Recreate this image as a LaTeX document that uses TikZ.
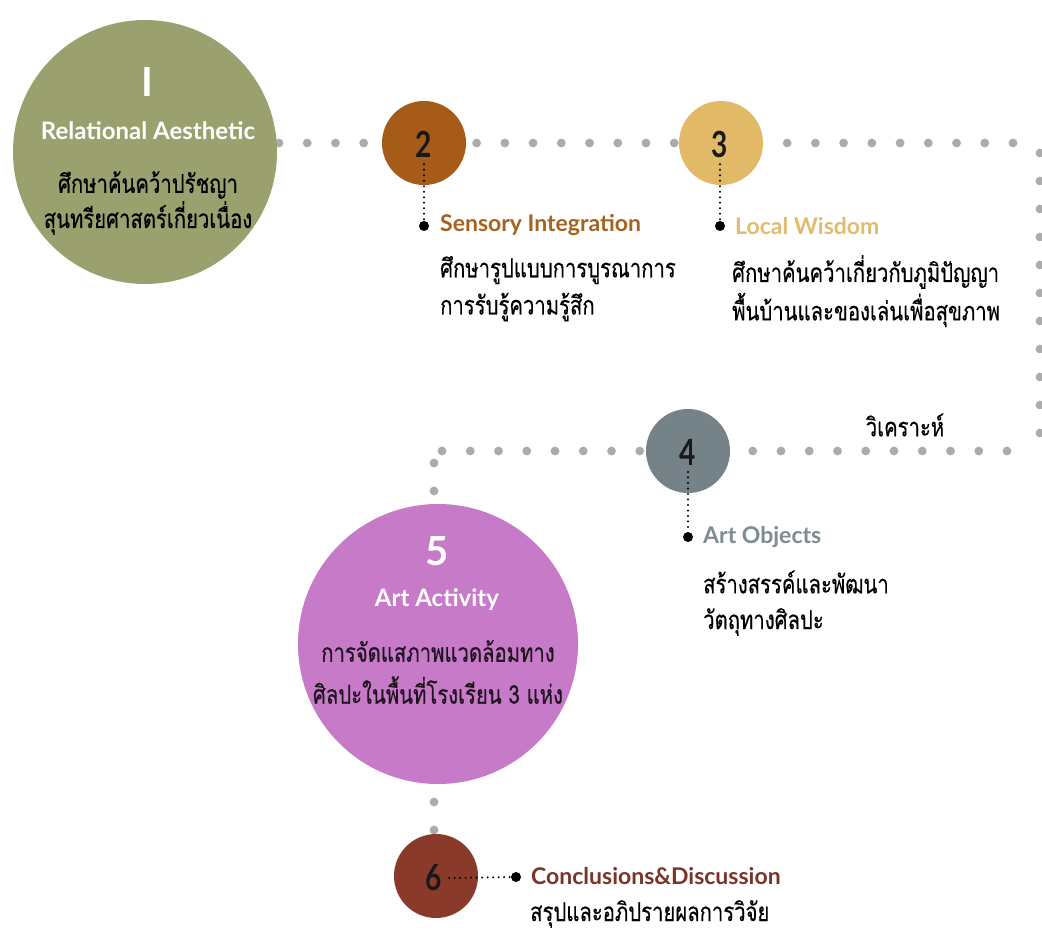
\documentclass[tikz,border=0pt]{standalone}
\usepackage{fontspec}
\setmainfont{Lato}
\newfontfamily\thaiface[Script=Thai, FakeStretch=0.78, FakeBold=0.35]{Loma}
\usetikzlibrary{calc}

\definecolor{dotgray}{HTML}{ABABAB}
\definecolor{stepA}{HTML}{9BA16E}
\definecolor{stepB}{HTML}{A65B18}
\definecolor{stepC}{HTML}{E2BA67}
\definecolor{stepD}{HTML}{758288}
\definecolor{stepE}{HTML}{C77AC8}
\definecolor{stepF}{HTML}{8A3A2B}
\definecolor{labB}{HTML}{A5631F}
\definecolor{labC}{HTML}{E0BC70}
\definecolor{labD}{HTML}{7E8B90}
\definecolor{labF}{HTML}{7A3528}

\tikzset{
  bigdisc/.style={circle, inner sep=0pt, minimum size=264pt},
  smalldisc/.style={circle, inner sep=0pt, minimum size=84pt},
  digit/.style={inner sep=0pt, outer sep=7pt, font=\fontsize{36}{36}\selectfont\bfseries, text=black!90},
  bignum/.style={inner sep=0pt, font=\fontsize{40}{40}\selectfont\bfseries, text=white},
  bigtitle/.style={inner sep=0pt, font=\fontsize{24}{28}\selectfont\bfseries, text=white},
  steplabel/.style={anchor=west, inner sep=0pt, font=\fontsize{23}{26}\selectfont\bfseries},
  thaitext/.style={inner sep=0pt, font=\thaiface\fontsize{26}{30}\selectfont, text=black},
  bullet/.style={circle, fill=black, inner sep=0pt, minimum size=10pt},
  leader/.style={draw=black, line width=2.2pt, line cap=round, dash pattern=on 0pt off 5.5pt},
}

\begin{document}
\begin{tikzpicture}[x=1pt, y=-1pt]
\useasboundingbox (0,0) rectangle (1042,934);
\fill[white] (0,0) rectangle (1042,934);

% ends of the grey dotted runs
\coordinate (r1a) at (279,143);  \coordinate (r1b) at (1013,143);
\coordinate (r2a) at (1040,153); \coordinate (r2b) at (1040,433);
\coordinate (r3a) at (1007,451); \coordinate (r3b) at (442,451);
\coordinate (r4a) at (434,463);  \coordinate (r4b) at (434,491);
\coordinate (r5a) at (434,802);  \coordinate (r5b) at (434,830);

\foreach \a/\b/\n in {r1a/r1b/26, r2a/r2b/10, r3a/r3b/20, r4a/r4b/1, r5a/r5b/1}
  \foreach \i in {0,...,\n}
    \fill[dotgray] ($(\a)!\i/\n!(\b)$) circle (4.4);

% discs
\node[bigdisc, fill=stepA] (c1) at (145,152) {};
\node[smalldisc, fill=stepB] (c2) at (424,143) {};
\node[smalldisc, fill=stepC] (c3) at (721,143) {};
\node[smalldisc, fill=stepD] (c4) at (688,451) {};
\node[bigdisc, fill=stepE, minimum size=280pt] (c5) at (438,644) {};
\node[smalldisc, fill=stepF] (c6) at (436,876) {};

% step 1
\node[bignum] (n1) at (147,82) {I};
\node[bigtitle] (t1) at (148,131) {Relational Aesthetic};
\node[thaitext] (a1) at (148,185) {ศึกษาค้นคว้าปรัชญา};
\node[thaitext] (b1) at (148,218) {สุนทรียศาสตร์เกี่ยวเนื่อง};

% step 2
\node[digit] (n2) at (424,144) {\scalebox{0.78}[1]{2}};
\node[bullet] (d2) at (424,226) {};
\draw[leader] (n2.south) -- (d2);
\node[steplabel, text=labB] (t2) at (440,225) {Sensory Integration};
\node[thaitext, anchor=west] (a2) at (440,270) {ศึกษารูปแบบการบูรณาการ};
\node[thaitext, anchor=west] (b2) at (440,307) {การรับรู้ความรู้สึก};

% step 3
\node[digit] (n3) at (720,144) {\scalebox{0.78}[1]{3}};
\node[bullet] (d3) at (720,226) {};
\draw[leader] (n3.south) -- (d3);
\node[steplabel, text=labC] (t3) at (735,226) {Local Wisdom};
\node[thaitext, anchor=west] (a3) at (732,272) {ศึกษาค้นคว้าเกี่ยวกับภูมิปัญญา};
\node[thaitext, anchor=west] (b3) at (732,310) {พื้นบ้านและของเล่นเพื่อสุขภาพ};

% step 4
\node[thaitext] (k4) at (905,425) {วิเคราะห์};
\node[digit] (n4) at (688,452) {\scalebox{0.78}[1]{4}};
\node[bullet] (d4) at (688,537) {};
\draw[leader] (n4.south) -- (d4);
\node[steplabel, text=labD] (t4) at (703,537) {Art Objects};
\node[thaitext, anchor=west] (a4) at (703,582) {สร้างสรรค์และพัฒนา};
\node[thaitext, anchor=west] (b4) at (703,622) {วัตถุทางศิลปะ};

% step 5
\node[bignum] (n5) at (437,551) {5};
\node[bigtitle] (t5) at (437,600) {Art Activity};
\node[thaitext, text=black!85!stepE] (a5) at (438,651) {การจัดแสภาพแวดล้อมทาง};
\node[thaitext, text=black!85!stepE] (b5) at (438,690) {ศิลปะในพื้นที่โรงเรียน 3 แห่ง};

% step 6
\node[digit] (n6) at (434,878) {\scalebox{0.78}[1]{6}};
\node[bullet] (d6) at (516,877) {};
\draw[leader] (n6.east) -- (d6);
\node[steplabel, text=labF] (t6) at (531,876) {Conclusions\&Discussion};
\node[thaitext, anchor=west] (a6) at (530,914) {สรุปและอภิปรายผลการวิจัย};
\end{tikzpicture}
\end{document}
